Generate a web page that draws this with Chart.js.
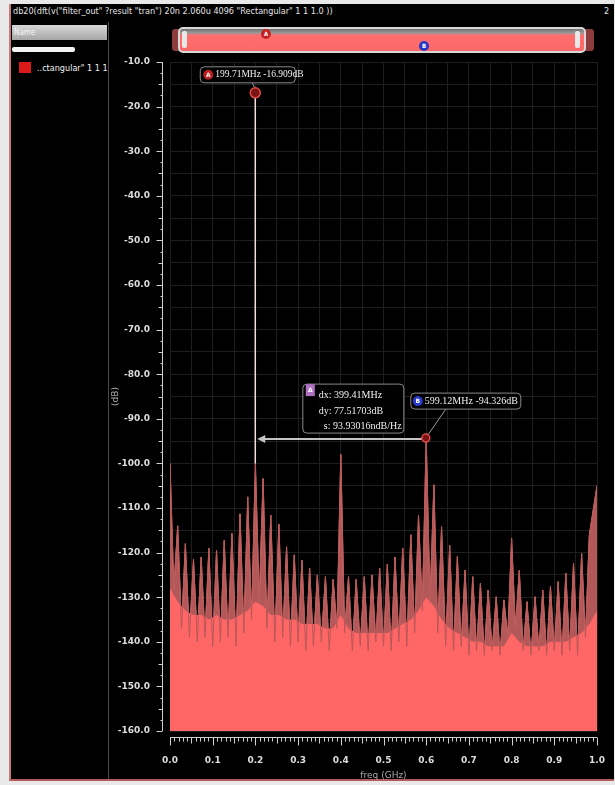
<!DOCTYPE html>
<html>
<head>
<meta charset="utf-8">
<script src="https://cdn.jsdelivr.net/npm/chart.js@4.4.1/dist/chart.umd.min.js"></script>
<style>
  html, body { margin: 0; padding: 0; }
  body { width: 615px; height: 785px; overflow: hidden; background: #e9e9e9; position: relative;
         font-family: "DejaVu Sans Condensed", "DejaVu Sans", sans-serif; }
  .abs { position: absolute; }
  #frame { left: 9px; top: 4px; width: 603px; height: 775px; background: #000;
           border-left: 2px solid #c87a7a; border-bottom: 2px solid #b05a5a; }
  #title { left: 13px; top: 6px; font-size: 9px; color: #e4e4e4; white-space: nowrap; }
  #pageNo { left: 604px; top: 6px; font-size: 9px; color: #e4e4e4; }
  #divider { left: 108px; top: 22px; width: 1px; height: 757px; background: #4a4a4a; }
  #nameHead { left: 12px; top: 25px; width: 93px; height: 15px; padding-left: 2px; line-height: 15px;
              background: linear-gradient(#d8d8d8, #a6a6a6); font-size: 8px; color: #f6f6f6; }
  #whiteBar { left: 12px; top: 47px; width: 63px; height: 5px; background: #f4f4f4; border-radius: 2px; }
  #swatch { left: 19px; top: 62px; width: 12px; height: 11px; background: #dd1a1a; }
  #legend { left: 37px; top: 62px; width: 70px; overflow: hidden; white-space: nowrap;
            font-size: 9px; line-height: 12px; color: #f0f0f0; }
  #track { left: 172px; top: 29px; width: 422px; height: 22px; background: #8c3c3c; border-radius: 3px; }
  #window { left: 178px; top: 27px; width: 404px; height: 22px; border: 2px solid #d8d8d8; border-radius: 5px;
            background: linear-gradient(to bottom, #6e6e6e 0%, #9a9a9a 18%, #ff6e6e 28%, #ff6868 100%); }
  .handle { top: 31px; width: 5px; height: 17px; background: #e8e8e8; border-radius: 2px; }
  .dot { width: 10px; height: 10px; border-radius: 50%; font-size: 6px; line-height: 10px;
         text-align: center; color: #fff; font-weight: bold; }
  canvas { position: absolute; left: 0; top: 0; }
</style>
</head>
<body>
<div class="abs" id="frame"></div>
<div class="abs" id="title">db20(dft(v("filter_out" ?result "tran") 20n 2.060u 4096 "Rectangular" 1 1 1.0 ))</div>
<div class="abs" id="pageNo">2</div>
<div class="abs" id="divider"></div>
<div class="abs" id="nameHead">Name</div>
<div class="abs" id="whiteBar"></div>
<div class="abs" id="swatch"></div>
<div class="abs" id="legend">..ctangular" 1 1 1.0 ))</div>
<div class="abs" id="track"></div>
<div class="abs" id="window"></div>
<div class="abs handle" style="left:182px"></div>
<div class="abs handle" style="left:575px"></div>
<div class="abs dot" style="left:261px;top:29px;background:#c42222">A</div>
<div class="abs dot" style="left:419px;top:41px;background:#2a36c8">B</div>
<canvas id="chart" width="615" height="785"></canvas>

<script>
// frequencies of the comb lines (GHz)
const freqGHz = [
  0.000, 0.018, 0.036, 0.055, 0.073, 0.091, 0.109, 0.127, 0.145, 0.164, 0.182,
  0.200, 0.218, 0.236, 0.255, 0.273, 0.291, 0.309, 0.327, 0.345, 0.364, 0.382,
  0.400, 0.418, 0.436, 0.455, 0.473, 0.491, 0.509, 0.527, 0.545, 0.564, 0.582,
  0.600, 0.618, 0.636, 0.655, 0.673, 0.691, 0.709, 0.727, 0.745, 0.764, 0.782,
  0.800, 0.818, 0.836, 0.855, 0.873, 0.891, 0.909, 0.927, 0.945, 0.964, 0.982, 1.000
];
// top of each comb line (dB)
const peakDb = [
  -100, -114, -118, -121.5, -121, -119, -119.5, -117.3, -115.7, -111.3, -107.5,
  -100, -103.4, -111.6, -113.6, -118.7, -120.5, -121.7, -123.5, -125, -125.4, -126,
  -98, -125.4, -126, -125.4, -125, -123.5, -122.6, -121, -119, -116, -111.7,
  -94.3, -104.8, -114.2, -118.3, -120.9, -123.9, -125.4, -126.9, -128.4, -129.9, -130.6,
  -116.8, -124, -131, -129.9, -128.4, -127.6, -126.5, -124.6, -122.4, -120.2, -116.1, -105
];
// valleys between neighbouring lines (dB)
const dipDb = [
  -128, -137, -139, -140, -139, -141, -140, -139, -141, -138, -135,
  -131, -137, -140, -139, -141, -140, -142, -141, -140, -142, -137,
  -138, -142, -141, -142, -140, -141, -142, -140, -141, -138, -133,
  -131, -138, -141, -142, -141, -143, -142, -143, -142, -143, -139,
  -137, -142, -143, -142, -143, -142, -143, -142, -143, -139
];
// level of the dense noise floor under each line (dB)
const floorDb = [
  -128, -131, -133, -134, -134, -135, -134, -135, -135, -134, -133,
  -131, -132, -134, -134, -135, -135, -136, -136, -136, -137, -137,
  -134, -137, -138, -138, -138, -138, -138, -137, -136, -135, -133,
  -130, -132, -135, -137, -138, -139, -140, -140, -141, -141, -141,
  -138, -140, -141, -141, -141, -140, -140, -140, -139, -138, -136, -133
];
// markers
const markerA = { f: 0.19971, db: -16.909, label: '199.71MHz -16.909dB' };
const markerB = { f: 0.59912, db: -94.326, label: '599.12MHz -94.326dB' };
const deltaText = ['dx: 399.41MHz', 'dy: 77.51703dB', 's: 93.93016ndB/Hz'];

// spectrum polyline: line top, then valley halfway to the next line
const spikeData = [];
freqGHz.forEach((f, i) => {
  spikeData.push({ x: f, y: peakDb[i] });
  if (i < dipDb.length) spikeData.push({ x: (f + freqGHz[i + 1]) / 2, y: dipDb[i] });
});
const floorData = freqGHz.map((f, i) => ({ x: f, y: floorDb[i] }));
const toneData = [{ x: markerA.f, y: -100 }, { x: markerA.f, y: markerA.db }];

function box(ctx, l, t, w, h) {
  ctx.beginPath();
  ctx.roundRect(l, t, w, h, 4);
  ctx.fillStyle = 'rgba(0,0,0,0.9)';
  ctx.fill();
  ctx.strokeStyle = '#8a8a8a';
  ctx.lineWidth = 1;
  ctx.stroke();
}

function dot(ctx, cx, cy, fill, letter) {
  ctx.beginPath();
  ctx.arc(cx, cy, 5, 0, Math.PI * 2);
  ctx.fillStyle = fill;
  ctx.fill();
  ctx.fillStyle = '#fff';
  ctx.font = 'bold 6px "DejaVu Sans"';
  ctx.textAlign = 'center';
  ctx.fillText(letter, cx, cy + 0.5);
}

// rulers, markers and the delta readout
const overlay = {
  id: 'overlay',
  afterDraw(chart) {
    const { ctx, chartArea: a, scales: { x, y } } = chart;
    ctx.save();

    // y ruler
    ctx.strokeStyle = '#cfcfcf';
    ctx.lineWidth = 1;
    const rx = a.left - 7.5;
    ctx.beginPath();
    ctx.moveTo(rx, a.top);
    ctx.lineTo(rx, a.bottom);
    for (let v = -160; v <= -10; v += 2.5) {
      const py = Math.round(y.getPixelForValue(v)) + 0.5;
      const len = v % 10 === 0 ? 6 : v % 5 === 0 ? 4 : 2;
      ctx.moveTo(rx, py);
      ctx.lineTo(rx - len, py);
    }
    ctx.stroke();

    // x ruler
    const ry = a.bottom + 6.5;
    ctx.beginPath();
    ctx.moveTo(a.left, ry);
    ctx.lineTo(a.right, ry);
    for (let i = 0; i <= 100; i++) {
      const px = Math.round(x.getPixelForValue(i / 100)) + 0.5;
      const len = i % 10 === 0 ? 8 : i % 5 === 0 ? 6 : 4;
      ctx.moveTo(px, ry);
      ctx.lineTo(px, ry + len);
    }
    ctx.stroke();

    const ax = x.getPixelForValue(markerA.f), ay = y.getPixelForValue(markerA.db);
    const bx = x.getPixelForValue(markerB.f), by = y.getPixelForValue(markerB.db);

    // delta arrow from B back to A's line
    ctx.strokeStyle = '#c4c4c4';
    ctx.lineWidth = 2;
    ctx.beginPath();
    ctx.moveTo(bx - 2, by + 1);
    ctx.lineTo(ax + 8, by + 1);
    ctx.stroke();
    ctx.fillStyle = '#c4c4c4';
    ctx.beginPath();
    ctx.moveTo(ax + 2, by + 1);
    ctx.lineTo(ax + 10, by - 3);
    ctx.lineTo(ax + 10, by + 5);
    ctx.closePath();
    ctx.fill();

    // connectors
    ctx.strokeStyle = '#9a9a9a';
    ctx.lineWidth = 1;
    ctx.beginPath();
    ctx.moveTo(ax - 3, ay - 10);
    ctx.lineTo(ax, ay - 4);
    ctx.moveTo(bx + 20, by - 29);
    ctx.lineTo(bx + 2, by - 3);
    ctx.stroke();

    ctx.textBaseline = 'middle';

    // marker A readout
    box(ctx, ax - 55, ay - 26, 95, 16);
    dot(ctx, ax - 47, ay - 18, '#b82020', 'A');
    ctx.fillStyle = '#f0f0f0';
    ctx.font = '9.5px "Liberation Serif"';
    ctx.textAlign = 'left';
    ctx.fillText(markerA.label, ax - 40, ay - 18);

    // marker B readout
    box(ctx, bx - 15, by - 45, 110, 16);
    dot(ctx, bx - 8, by - 37, '#2838c8', 'B');
    ctx.fillStyle = '#f0f0f0';
    ctx.font = '10px "Liberation Serif"';
    ctx.textAlign = 'left';
    ctx.fillText(markerB.label, bx - 1, by - 37);

    // delta readout
    box(ctx, bx - 123, by - 54, 101, 49);
    ctx.fillStyle = '#b070c0';
    ctx.fillRect(bx - 120, by - 54, 9, 12);
    ctx.fillStyle = '#fff';
    ctx.font = 'bold 6px "DejaVu Sans"';
    ctx.textAlign = 'center';
    ctx.fillText('\u0394', bx - 115.5, by - 48);
    ctx.fillStyle = '#f0f0f0';
    ctx.font = '10px "Liberation Serif"';
    ctx.textAlign = 'left';
    ctx.fillText(deltaText[0], bx - 107, by - 43);
    ctx.fillText(deltaText[1], bx - 107, by - 27);
    ctx.fillText(deltaText[2], bx - 102, by - 12);

    // marker symbols
    [[ax, ay, 5], [bx, by, 4]].forEach(([px, py, r]) => {
      ctx.beginPath();
      ctx.arc(px, py, r, 0, Math.PI * 2);
      ctx.fillStyle = '#7a1414';
      ctx.fill();
      ctx.strokeStyle = '#e04a4a';
      ctx.lineWidth = 1.5;
      ctx.stroke();
    });

    ctx.restore();
  }
};

Chart.defaults.font.family = '"DejaVu Sans", sans-serif';
Chart.defaults.font.size = 9;

new Chart(document.getElementById('chart'), {
  type: 'line',
  data: {
    datasets: [
      { data: toneData, borderColor: '#f4dcdc', borderWidth: 1.5, pointRadius: 0, fill: false, order: 0 },
      { data: spikeData, borderColor: '#b85858', borderWidth: 1, pointRadius: 0, fill: false, order: 1 },
      { data: floorData, borderWidth: 0, pointRadius: 0, fill: 'start', backgroundColor: '#ff6666', order: 2 },
      { data: spikeData, borderColor: '#e87676', borderWidth: 1, pointRadius: 0, fill: 'start',
        backgroundColor: '#b25858', order: 3 }
    ]
  },
  options: {
    responsive: false,
    animation: false,
    devicePixelRatio: 1,
    layout: { padding: { left: 110, right: 18, top: 62, bottom: 4 } },
    plugins: { legend: { display: false }, tooltip: { enabled: false } },
    scales: {
      x: {
        type: 'linear', min: 0, max: 1,
        afterFit: s => { s.height = 50; },
        // invisible tick marks push the labels down without widening the side padding
        grid: { color: '#1e1e1e', drawTicks: true, tickLength: 24, tickColor: 'transparent' },
        border: { display: false },
        ticks: {
          stepSize: 0.05, autoSkip: false, maxRotation: 0, padding: 0, color: '#dddddd',
          font: { weight: 'bold' },
          callback: v => Math.abs(v * 10 - Math.round(v * 10)) < 1e-6 ? v.toFixed(1) : ''
        },
        title: { display: true, text: 'freq (GHz)', color: '#a8a8a8', padding: 0 }
      },
      y: {
        min: -160, max: -10,
        afterFit: s => { s.width = 60; },
        grid: { color: '#1e1e1e', drawTicks: true, tickLength: 20, tickColor: 'transparent' },
        border: { display: false },
        ticks: {
          stepSize: 5, autoSkip: false, padding: 0, color: '#dddddd',
          font: { weight: 'bold' },
          callback: v => v % 10 === 0 ? v.toFixed(1) : ''
        },
        title: { display: true, text: '(dB)', color: '#a8a8a8', padding: 0 }
      }
    }
  },
  plugins: [overlay]
});
</script>
</body>
</html>
